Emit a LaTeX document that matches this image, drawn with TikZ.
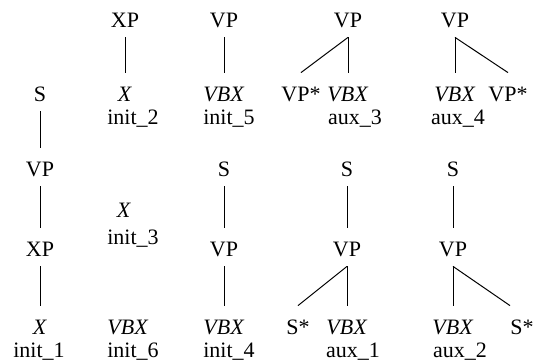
\documentclass[tikz,border=0pt]{standalone}
\usepackage{fontspec}
\setmainfont{Liberation Serif}
\usepackage{tikz}

\begin{document}
\begin{tikzpicture}[x=1pt, y=1pt, font=\fontsize{11}{13}\selectfont,
  cat/.style={anchor=base, inner sep=0pt, text height=14.5pt, text depth=4.5pt},
  tag/.style={anchor=base, inner sep=0pt},
  edge/.style={line width=0.5pt}]
\useasboundingbox (0,0) rectangle (270.5,181);

\node[cat] (s1) at (20,130) {S};
\node[cat] (vp1) at (20,92.5) {VP};
\node[cat] (xp1) at (20,52.5) {XP};
\node[cat] (x1) at (20,13.5) {\textit{X}};
\node[tag] (i1) at (19.5,2) {init\_1};
\draw[edge] (s1.south) -- (vp1.north);
\draw[edge] (vp1.south) -- (xp1.north);
\draw[edge] (xp1.south) -- (x1.north);

\node[cat] (xp2) at (62.5,167) {XP};
\node[cat] (x2) at (62.5,130) {\textit{X}};
\node[tag] (i2) at (66.5,118.5) {init\_2};
\draw[edge] (xp2.south) -- (x2.north);

\node[cat] (x3) at (62,72) {\textit{X}};
\node[tag] (i3) at (66.5,58.5) {init\_3};

\node[cat] (vbx6) at (64,13.5) {\textit{VBX}};
\node[tag] (i6) at (66.5,2) {init\_6};

\node[cat] (vp5i) at (112,167) {VP};
\node[cat] (vbx5i) at (112,130) {\textit{VBX}};
\node[tag] (i5) at (114.5,118.5) {init\_5};
\draw[edge] (vp5i.south) -- (vbx5i.north);

\node[cat] (s4i) at (112,92.5) {S};
\node[cat] (vp4i) at (112,52.5) {VP};
\node[cat] (vbx4i) at (112,13.5) {\textit{VBX}};
\node[tag] (i4) at (114.5,2) {init\_4};
\draw[edge] (s4i.south) -- (vp4i.north);
\draw[edge] (vp4i.south) -- (vbx4i.north);

\node[cat] (vp3a) at (174,167) {VP};
\node[cat] (foot3a) at (150.5,130) {VP*};
\node[cat] (vbx3a) at (174,130) {\textit{VBX}};
\node[tag] (a3) at (177.5,118.5) {aux\_3};
\draw[edge] (vp3a.south) -- (foot3a.north);
\draw[edge] (vp3a.south) -- (vbx3a.north);

\node[cat] (vp4a) at (227.5,167) {VP};
\node[cat] (vbx4a) at (227.5,130) {\textit{VBX}};
\node[cat] (foot4a) at (254,130) {VP*};
\node[tag] (a4) at (229,118.5) {aux\_4};
\draw[edge] (vp4a.south) -- (vbx4a.north);
\draw[edge] (vp4a.south) -- (foot4a.north);

\node[cat] (s1a) at (173.5,92.5) {S};
\node[cat] (vp1a) at (173.5,52.5) {VP};
\node[cat] (foot1a) at (149,13.5) {S*};
\node[cat] (vbx1a) at (173.5,13.5) {\textit{VBX}};
\node[tag] (a1) at (176.5,2) {aux\_1};
\draw[edge] (s1a.south) -- (vp1a.north);
\draw[edge] (vp1a.south) -- (foot1a.north);
\draw[edge] (vp1a.south) -- (vbx1a.north);

\node[cat] (s2a) at (226.5,92.5) {S};
\node[cat] (vp2a) at (226.5,52.5) {VP};
\node[cat] (vbx2a) at (226.5,13.5) {\textit{VBX}};
\node[cat] (foot2a) at (261,13.5) {S*};
\node[tag] (a2) at (230,2) {aux\_2};
\draw[edge] (s2a.south) -- (vp2a.north);
\draw[edge] (vp2a.south) -- (vbx2a.north);
\draw[edge] (vp2a.south) -- (foot2a.north west);

\end{tikzpicture}
\end{document}
